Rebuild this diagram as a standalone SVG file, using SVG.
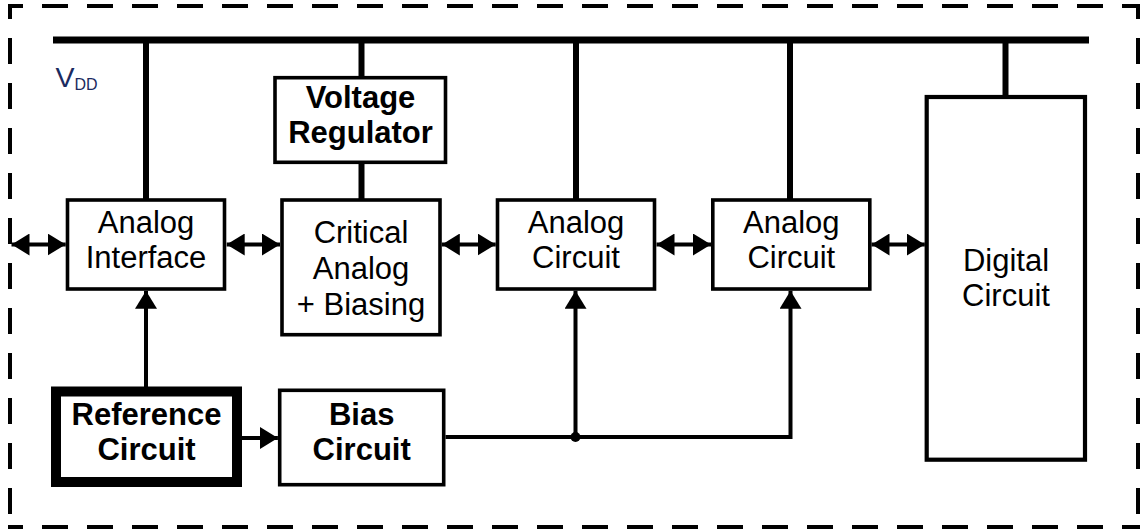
<svg xmlns="http://www.w3.org/2000/svg" width="1140" height="531" viewBox="0 0 1140 531">
<defs>
<style>
.frame{fill:none;stroke:#000;stroke-width:4;stroke-dasharray:26 19;stroke-dashoffset:11}
.bus{fill:none;stroke:#000;stroke-width:7}
.stub{fill:none;stroke:#000;stroke-width:6}
.box{fill:#fff;stroke:#000;stroke-width:3.6}
.thick{fill:#fff;stroke:#000;stroke-width:10}
.wire{fill:none;stroke:#000;stroke-width:4}
.t{font-family:"Liberation Sans",Arial,sans-serif;font-size:31px;fill:#000;text-anchor:middle}
.b{font-weight:bold}
.vdd{font-family:"Liberation Sans",Arial,sans-serif;fill:#1b2a60}
</style>
<marker id="ah" viewBox="0 0 18 22" refX="18" refY="11" markerWidth="18" markerHeight="22" markerUnits="userSpaceOnUse" orient="auto-start-reverse">
<path d="M0,0 L18,11 L0,22 z" fill="#000"/>
</marker>
</defs>
<rect width="1140" height="531" fill="#fff"/>
<g id="frame">
<path class="frame" d="M8 6 H1140"/>
<path class="frame" d="M10 4 V529"/>
<path class="frame" d="M1138 4 V529"/>
<path class="frame" d="M8 527 H1140"/>
</g>
<g id="vdd-bus">
<line class="bus" x1="53" y1="40" x2="1089" y2="40"/>
<text class="vdd" x="55.5" y="87" font-size="28.5">V<tspan font-size="16" dy="3">DD</tspan></text>
</g>
<g id="connectors">
<line class="stub" x1="146" y1="40" x2="146" y2="201"/>
<line class="stub" x1="361.5" y1="40" x2="361.5" y2="79"/>
<line class="stub" x1="361.5" y1="162" x2="361.5" y2="201"/>
<line class="stub" x1="576" y1="40" x2="576" y2="201"/>
<line class="stub" x1="790" y1="40" x2="790" y2="201"/>
<line class="stub" x1="1005.5" y1="40" x2="1005.5" y2="99"/>
<line class="wire" x1="11.5" y1="244.5" x2="65.7" y2="244.5" marker-start="url(#ah)" marker-end="url(#ah)"/>
<line class="wire" x1="226.7" y1="244.5" x2="280" y2="244.5" marker-start="url(#ah)" marker-end="url(#ah)"/>
<line class="wire" x1="441.8" y1="244.5" x2="495.7" y2="244.5" marker-start="url(#ah)" marker-end="url(#ah)"/>
<line class="wire" x1="656.5" y1="244.5" x2="711" y2="244.5" marker-start="url(#ah)" marker-end="url(#ah)"/>
<line class="wire" x1="871.5" y1="244.5" x2="924.8" y2="244.5" marker-start="url(#ah)" marker-end="url(#ah)"/>
<line class="wire" x1="146" y1="387" x2="146" y2="290.8" marker-end="url(#ah)"/>
<line class="wire" x1="242" y1="438" x2="277.9" y2="438" marker-end="url(#ah)"/>
<path class="wire" d="M445.5 437 H790.5 V290.8" marker-end="url(#ah)"/>
<line class="wire" x1="575.5" y1="437" x2="575.5" y2="290.8" marker-end="url(#ah)"/>
<circle cx="575.5" cy="437" r="5" fill="#000"/>
</g>
<g id="voltage-regulator">
<rect class="box" x="275" y="77.7" width="170.5" height="84.6"/>
<text class="t b" x="360.5" y="108">Voltage</text>
<text class="t b" x="360.5" y="143">Regulator</text>
</g>
<g id="analog-interface">
<rect class="box" x="67.5" y="200" width="157" height="89"/>
<text class="t" x="146" y="233">Analog</text>
<text class="t" x="146" y="268">Interface</text>
</g>
<g id="critical-analog">
<rect class="box" x="282" y="200" width="158" height="134.7"/>
<text class="t" x="361" y="243">Critical</text>
<text class="t" x="361" y="279">Analog</text>
<text class="t" x="361" y="315">+ Biasing</text>
</g>
<g id="analog-circuit-1">
<rect class="box" x="497.5" y="200" width="157" height="89"/>
<text class="t" x="576" y="233">Analog</text>
<text class="t" x="576" y="268">Circuit</text>
</g>
<g id="analog-circuit-2">
<rect class="box" x="712.8" y="200" width="157" height="89"/>
<text class="t" x="791.3" y="233">Analog</text>
<text class="t" x="791.3" y="268">Circuit</text>
</g>
<g id="digital-circuit">
<rect class="box" x="926.7" y="97" width="158.3" height="362.7" style="stroke-width:4.2"/>
<text class="t" x="1006" y="271">Digital</text>
<text class="t" x="1006" y="306">Circuit</text>
</g>
<g id="reference-circuit">
<rect class="thick" x="56" y="391.5" width="181" height="90.5"/>
<text class="t b" x="146.5" y="425">Reference</text>
<text class="t b" x="146.5" y="460">Circuit</text>
</g>
<g id="bias-circuit">
<rect class="box" x="279.7" y="390.3" width="164" height="94.4"/>
<text class="t b" x="361.7" y="425">Bias</text>
<text class="t b" x="361.7" y="460">Circuit</text>
</g>
</svg>
